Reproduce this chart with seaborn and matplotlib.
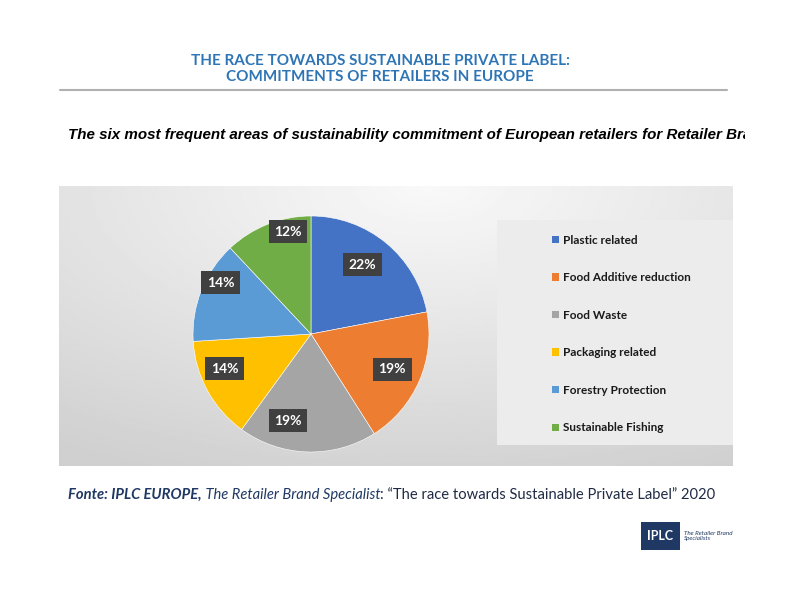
import numpy as np
import pandas as pd
import matplotlib
matplotlib.use("Agg")
import matplotlib.pyplot as plt
from matplotlib.patches import Rectangle
import seaborn as sns

# ---- data ----
categories = ["Plastic related", "Food Additive reduction", "Food Waste",
              "Packaging related", "Forestry Protection", "Sustainable Fishing"]
shares = [22, 19, 19, 14, 14, 12]
colors = ["#4472C4", "#ED7D31", "#A5A5A5", "#FFC000", "#5B9BD5", "#70AD47"]
title_lines = ["THE RACE TOWARDS SUSTAINABLE PRIVATE LABEL:", "COMMITMENTS OF RETAILERS IN EUROPE"]
subtitle = "The six most frequent areas of sustainability commitment of European retailers for Retailer Brand"

# label placement style (radial distance, angular shift in degrees) per slice
label_dist = [0.73, 0.75, 0.76, 0.79, 0.88, 0.89]
label_shift = [3, 0, -13, -7, -8, -9]

df = pd.DataFrame({"category": categories, "share": shares})

sns.set_theme(style="white")
plt.rcParams['font.family'] = ['Lato', 'DejaVu Sans']

W, H = 800, 600
fig = plt.figure(figsize=(8, 6), dpi=100)
fig.patch.set_facecolor("white")

def fx(x):
    return x / W

def fy(y):
    return 1 - y / H

# ---- title ----
fig.text(fx(380), fy(61), title_lines[0], ha="center", va="center", color="#2E75B6",
         fontsize=11, fontweight="bold")
fig.text(fx(380), fy(77), title_lines[1], ha="center", va="center", color="#2E75B6",
         fontsize=11, fontweight="bold")
fig.add_artist(plt.Line2D([fx(60), fx(727)], [fy(90), fy(90)], color="#b0b0b0", lw=1.5))

# ---- subtitle clipped at right ----
axs = fig.add_axes([fx(60), fy(147), fx(745) - fx(60), fy(123) - fy(147)])
axs.set_axis_off()
axs.set_xlim(0, 1)
axs.set_ylim(0, 1)
t = axs.text((fx(68) - fx(60)) / (fx(745) - fx(60)), 0.5, subtitle, transform=axs.transAxes,
             ha="left", va="center",
             fontsize=10.9, fontweight="bold", style="italic", color="black",
             family=["Liberation Sans", "DejaVu Sans"])
t.set_clip_on(True)
t.set_clip_box(axs.bbox)

# ---- panel background gradient ----
axb = fig.add_axes([fx(59), fy(466), fx(733) - fx(59), fy(186) - fy(466)])
axb.set_axis_off()
gx, gy = np.meshgrid(np.linspace(0, 1, 300), np.linspace(0, 1, 150))
dist = np.sqrt(((gx - 0.55) * 1.0) ** 2 + ((gy - 0.0) * 0.9) ** 2)
val = 0.975 - 0.16 * np.clip(dist, 0, 1)
axb.imshow(val, cmap="gray", vmin=0, vmax=1, aspect="auto", extent=[0, 1, 0, 1], origin="upper")
axb.set_xlim(0, 1)
axb.set_ylim(0, 1)

# legend box
fig.add_artist(Rectangle((fx(497), fy(445)), fx(733) - fx(497), fy(220) - fy(445),
                         transform=fig.transFigure, facecolor="#ececec", edgecolor="none"))

# ---- pie ----
cx, cy, r = 311, 334, 118
axp = fig.add_axes([fx(cx - r), fy(cy + r), 2 * r / W, 2 * r / H])
wedges, texts, autotexts = axp.pie(
    df["share"], colors=colors, startangle=90, counterclock=False,
    autopct=lambda p: f"{p:.0f}%", pctdistance=0.74, radius=1,
    wedgeprops=dict(edgecolor="white", linewidth=0.4))
for w, at, d, s in zip(wedges, autotexts, label_dist, label_shift):
    ang = np.deg2rad((w.theta1 + w.theta2) / 2 + s)
    at.set_position((d * np.cos(ang), d * np.sin(ang)))
    at.set_color("white")
    at.set_fontweight("bold")
    at.set_fontsize(10)
    at.set_bbox(dict(boxstyle="square,pad=0.4", facecolor="#404040", edgecolor="none"))
axp.set_aspect("equal")
axp.set_xlim(-1, 1)
axp.set_ylim(-1, 1)

# ---- legend ----
handles = [Rectangle((0, 0), 1, 1, facecolor=c, edgecolor="none") for c in colors]
leg = fig.legend(handles, categories, loc="upper left",
                 bbox_to_anchor=(fx(541), fy(224)), frameon=False,
                 handlelength=0.6, handleheight=0.6, handletextpad=0.35,
                 labelspacing=2.25, prop=dict(weight="bold", size=8.5))
for txt in leg.get_texts():
    txt.set_color("#1a1a1a")

# ---- footer source (chained texts) ----
fig.canvas.draw()
renderer = fig.canvas.get_renderer()
parts = [
    ("Fonte: IPLC EUROPE,", dict(fontweight="bold", style="italic", color="#1F3864")),
    (" The Retailer Brand Specialist", dict(style="italic", color="#1F3864")),
    (": \u201cThe race towards Sustainable Private Label\u201d 2020", dict(color="#1F2A44")),
]
x = fx(68)
for s, kw in parts:
    tt = fig.text(x, fy(495), s, ha="left", va="center", fontsize=10.6,
                  family=["Lato", "DejaVu Sans"], **kw)
    bb = tt.get_window_extent(renderer=renderer)
    x = x + bb.width / fig.bbox.width

# ---- logo ----
fig.add_artist(Rectangle((fx(641), fy(550)), fx(680) - fx(641), fy(522) - fy(550),
                         transform=fig.transFigure, facecolor="#1F3864", edgecolor="none"))
fig.text(fx(660.5), fy(536), "IPLC", ha="center", va="center", color="white",
         fontsize=9, fontweight="bold")
fig.text(fx(684), fy(536), "The Retailer Brand\nSpecialists", ha="left", va="center",
         color="#1F3864", fontsize=4.5, style="italic", linespacing=1.1)

fig.savefig("out.png", dpi=100, facecolor="white")
